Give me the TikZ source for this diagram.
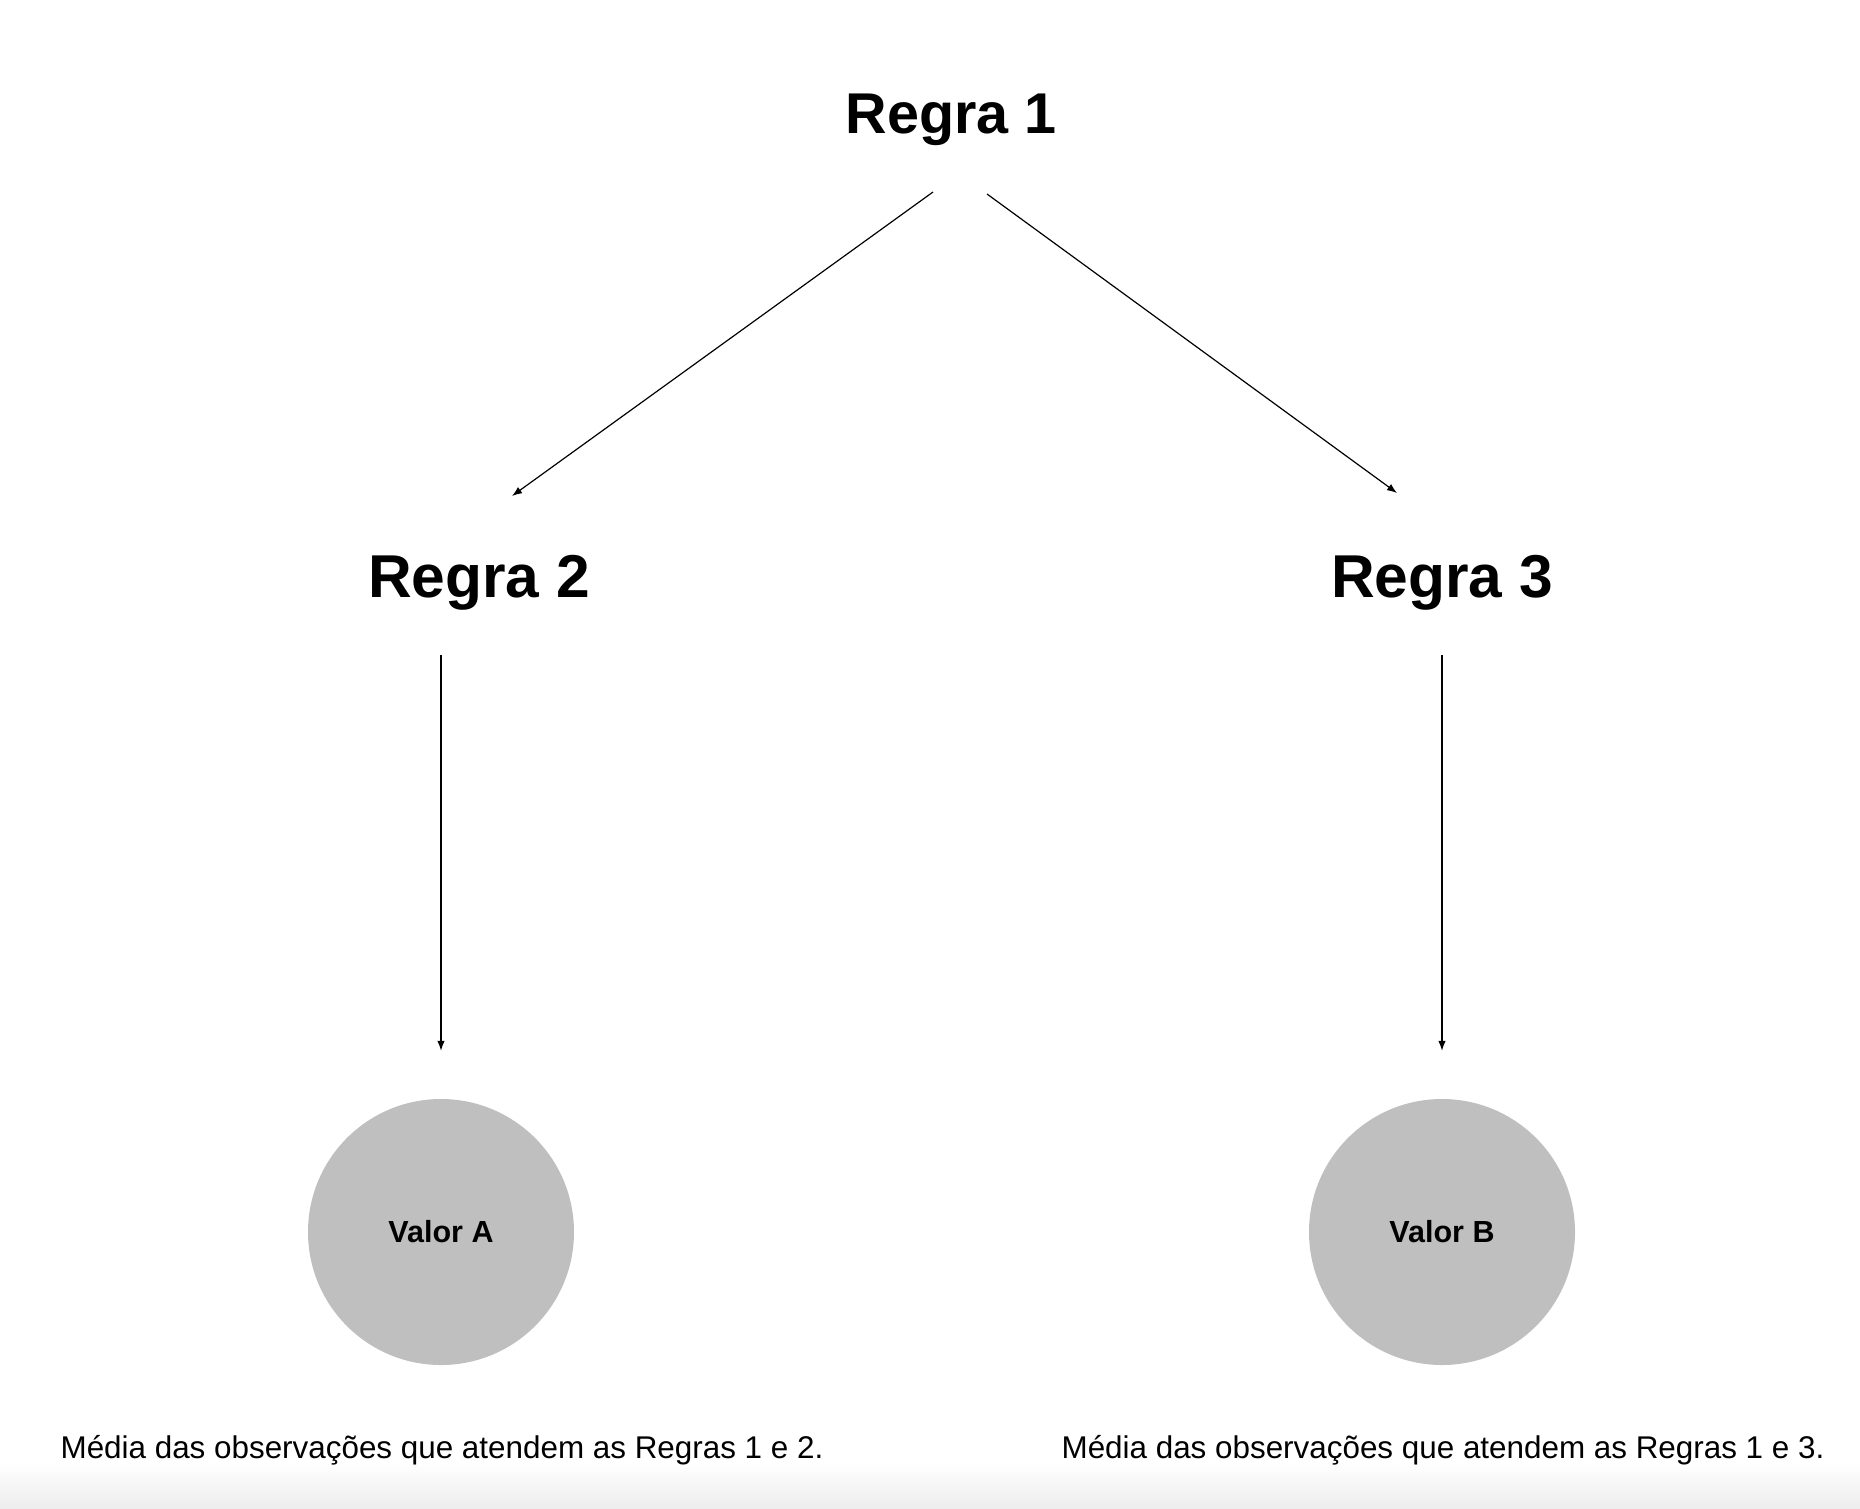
\documentclass[tikz,border=0pt]{standalone}
\usepackage{fontspec}
\setmainfont{Liberation Sans}
\usetikzlibrary{arrows.meta}
\tikzset{
	regra/.style={font=\fontsize{57.5}{60}\selectfont\bfseries, inner sep=0pt},
	regrab/.style={regra, font=\fontsize{60.5}{64}\selectfont\bfseries},
	valor/.style={circle, fill=black!25, minimum size=266pt, inner sep=0pt, font=\fontsize{30.5}{34}\selectfont\bfseries},
	media/.style={font=\fontsize{31.4}{36}\selectfont, inner sep=0pt},
	seta/.style={line width=1.2pt, -{Latex[length=10pt,width=7.5pt]}}
}

\begin{document}
\begin{tikzpicture}[x=1pt, y=-1pt]
		%%%%% START %%%%%
		
		\useasboundingbox (0, 0) rectangle (1860, 1508);
		\shade[top color=white, bottom color=black!7] (0, 1462) rectangle (1860, 1508);
		
		\node[regra] (r1) at (951, 120) {Regra 1};
		\node[regrab] (r2) at (479, 583) {Regra 2};
		\node[regrab] (r3) at (1442, 583) {Regra 3};
		
		\node[valor] (va) at (441, 1232) {Valor A};
		\node[valor] (vb) at (1442, 1232) {Valor B};
		
		\node[media] (ma) at (442, 1450) {Média das observações que atendem as Regras 1 e 2.};
		\node[media] (mb) at (1443, 1450) {Média das observações que atendem as Regras 1 e 3.};
		
		\draw[seta] ([shift={(-18, 72)}]r1.center) -- ([shift={(33, -87)}]r2.center);
		\draw[seta] ([shift={(36, 74)}]r1.center) -- ([shift={(-45, -90)}]r3.center);
		
		\draw[seta] ([shift={(-38, 72)}]r2.center) -- ([shift={(0, -48)}]va.north);
		\draw[seta] ([shift={(0, 72)}]r3.center) -- ([shift={(0, -48)}]vb.north);
		
		%%%%% END %%%%%
	\end{tikzpicture}
\end{document}
